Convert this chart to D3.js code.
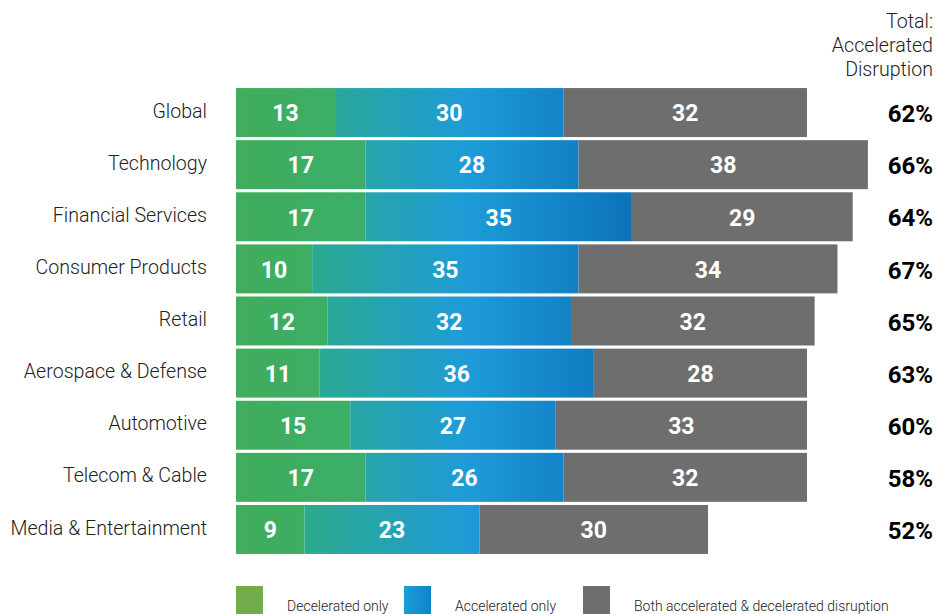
<!DOCTYPE html>
<html>
<head>
<meta charset="utf-8">
<script src="https://cdn.jsdelivr.net/npm/d3@7"></script>
<style>
  html, body { margin: 0; padding: 0; background: #fff; }
  svg { display: block; font-family: Roboto, "Noto Sans", sans-serif; }
</style>
</head>
<body>
<svg id="chart" width="936" height="614"></svg>
<script>
// Sectors, top to bottom
const categories = [
  "Global", "Technology", "Financial Services", "Consumer Products", "Retail",
  "Aerospace & Defense", "Automotive", "Telecom & Cable", "Media & Entertainment"
];
// Share of respondents (%)
const deceleratedOnly = [13, 17, 17, 10, 12, 11, 15, 17, 9];
const acceleratedOnly = [30, 28, 35, 35, 32, 36, 27, 26, 23];
const bothDisruption  = [32, 38, 29, 34, 32, 28, 33, 32, 30];
const totalAccelerated = [62, 66, 64, 67, 65, 63, 60, 58, 52];

const seriesKeys = ["decel", "accel", "both"];
const legendLabels = ["Decelerated only", "Accelerated only", "Both accelerated & decelerated disruption"];
const headerLines = ["Total:", "Accelerated", "Disruption"];

const rows = categories.map((c, i) => ({
  category: c,
  decel: deceleratedOnly[i],
  accel: acceleratedOnly[i],
  both: bothDisruption[i],
  total: totalAccelerated[i]
}));

const svg = d3.select("#chart");
const defs = svg.append("defs");

const x = d3.scaleLinear().domain([0, 75]).range([236, 807]);
const y = d3.scaleBand().domain(categories).range([87, 555]).paddingInner(0.06).paddingOuter(0.02);

// Gradients across the chart's width
const gGreen = defs.append("linearGradient").attr("id", "gGreen")
  .attr("gradientUnits", "userSpaceOnUse").attr("x1", x(0)).attr("x2", x(17)).attr("y1", 0).attr("y2", 0);
gGreen.append("stop").attr("offset", 0).attr("stop-color", "#41ad5c");
gGreen.append("stop").attr("offset", 1).attr("stop-color", "#3aae69");

const gBlue = defs.append("linearGradient").attr("id", "gBlue")
  .attr("gradientUnits", "userSpaceOnUse").attr("x1", x(8.5)).attr("x2", x(52.5)).attr("y1", 0).attr("y2", 0);
gBlue.append("stop").attr("offset", 0).attr("stop-color", "#2dab88");
gBlue.append("stop").attr("offset", 0.12).attr("stop-color", "#29a79e");
gBlue.append("stop").attr("offset", 0.5).attr("stop-color", "#1e9bd8");
gBlue.append("stop").attr("offset", 1).attr("stop-color", "#0c72ba");

const gLegendBlue = defs.append("linearGradient").attr("id", "gLegendBlue")
  .attr("x1", 0).attr("x2", 1).attr("y1", 0).attr("y2", 0);
gLegendBlue.append("stop").attr("offset", 0).attr("stop-color", "#1c9fd8");
gLegendBlue.append("stop").attr("offset", 1).attr("stop-color", "#1083cb");

const fills = { decel: "url(#gGreen)", accel: "url(#gBlue)", both: "#6e6e6e" };

const stacked = d3.stack().keys(seriesKeys)(rows);

const layer = svg.append("g").selectAll("g").data(stacked).join("g")
  .attr("fill", d => fills[d.key]);

layer.selectAll("rect").data(d => d.map(p => ({ p, key: d.key }))).join("rect")
  .attr("x", d => x(d.p[0]))
  .attr("y", d => y(d.p.data.category))
  .attr("width", d => x(d.p[1]) - x(d.p[0]))
  .attr("height", y.bandwidth());

// Segment value labels
const labels = svg.append("g")
  .attr("fill", "#fff").attr("font-weight", 700).attr("font-size", 23)
  .attr("text-anchor", "middle");
stacked.forEach(s => {
  labels.selectAll(null).data(s).join("text")
    .attr("x", d => (x(d[0]) + x(d[1])) / 2)
    .attr("y", d => y(d.data.category) + y.bandwidth() / 2 + 0.5)
    .attr("dy", "0.36em")
    .text(d => d[1] - d[0]);
});

// Category labels
svg.append("g").selectAll("text").data(rows).join("text")
  .attr("x", 207)
  .attr("y", d => y(d.category) + y.bandwidth() / 2 - 2)
  .attr("dy", "0.36em")
  .attr("text-anchor", "end")
  .attr("font-size", 19.6).attr("font-weight", 300).attr("fill", "#222")
  .text(d => d.category);

// Totals
svg.append("g").selectAll("text").data(rows).join("text")
  .attr("x", 933)
  .attr("y", d => y(d.category) + y.bandwidth() / 2 + 1)
  .attr("dy", "0.36em")
  .attr("text-anchor", "end")
  .attr("font-size", 24).attr("font-weight", 700).attr("fill", "#000")
  .text(d => d.total + "%");

// Column header
svg.append("g").selectAll("text").data(headerLines).join("text")
  .attr("x", 933)
  .attr("y", (d, i) => 28 + i * 24)
  .attr("text-anchor", "end")
  .attr("font-size", 19.6).attr("font-weight", 300).attr("fill", "#222")
  .text(d => d);

// Legend
const legendX = [236, 404, 583];
const legendFills = ["#72ad4c", "url(#gLegendBlue)", "#6d6d6d"];
const legend = svg.append("g").selectAll("g").data(legendLabels).join("g")
  .attr("transform", (d, i) => `translate(${legendX[i]},586)`);
legend.append("rect").attr("width", 27).attr("height", 28)
  .attr("fill", (d, i) => legendFills[i]);
legend.append("text").attr("x", 51).attr("y", 24.5)
  .attr("font-size", 14).attr("font-weight", 300).attr("fill", "#222")
  .text(d => d);
</script>
</body>
</html>
